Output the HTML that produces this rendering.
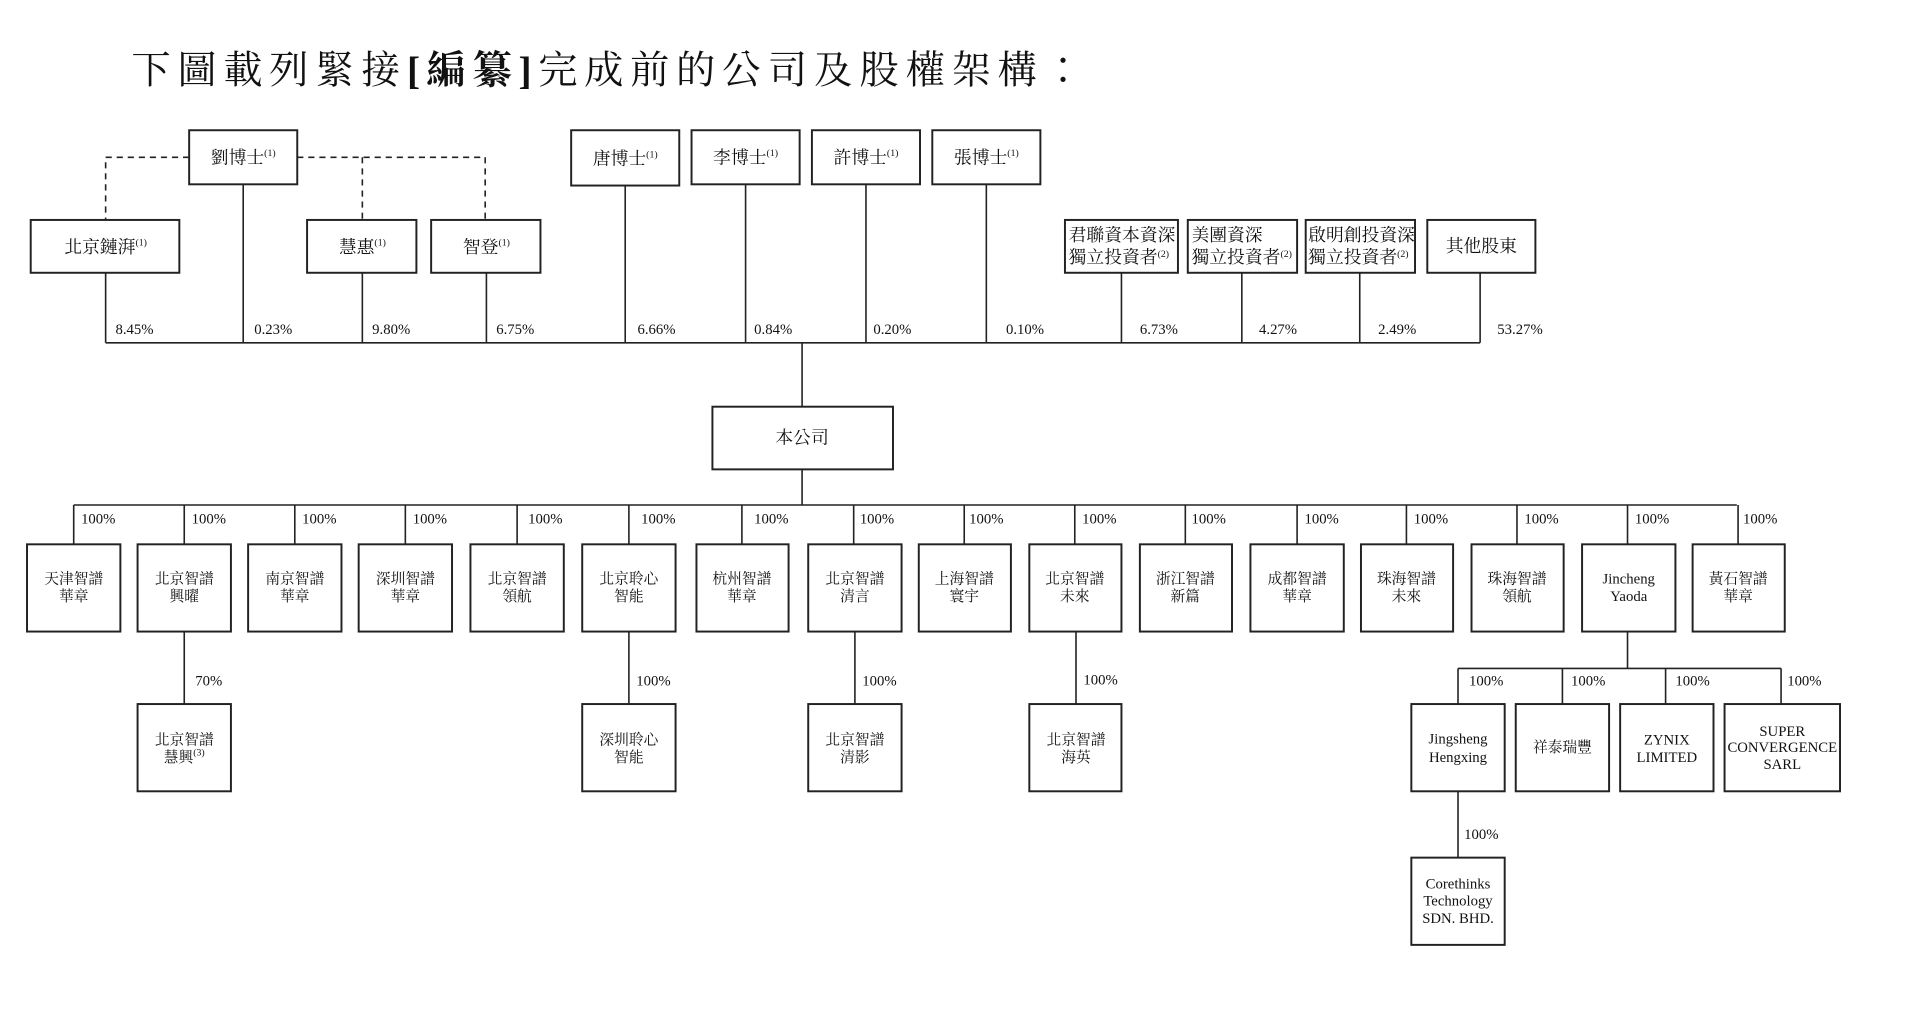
<!DOCTYPE html>
<html><head><meta charset="utf-8"><style>
html,body{margin:0;padding:0;background:#fff;}
svg{display:block;}
text{font-family:"Liberation Serif","Noto Serif CJK TC","Noto Serif CJK SC",serif;fill:#111;}
.b{fill:#fff;stroke:#222;stroke-width:1.6;}
.l{stroke:#222;stroke-width:1.3;fill:none;}
.d{stroke:#222;stroke-width:1.3;fill:none;stroke-dasharray:5,4;}
.p{font-size:12px;}
.t{font-size:14.5px;}
.s{font-size:12px;}
.sup{font-size:8px;}
</style></head><body>
<svg width="1926" height="1010" viewBox="0 0 1568 822" preserveAspectRatio="none" xmlns="http://www.w3.org/2000/svg">
<text x="107" y="68" style="font-size:32px;letter-spacing:5.4px">下圖載列緊接<tspan font-weight="bold">[編纂]</tspan>完成前的公司及股權架構：</text>

<path class="d" d="M154 128 H86 V179"/>
<path class="d" d="M242 128 H395 V179 M295 128 V179"/>

<path class="l" d="M86 222 V279 M198 150 V279 M295 222 V279 M396 222 V279 M509 150 V279 M607 150 V279 M705 150 V279 M803 150 V279 M913 222 V279 M1011 222 V279 M1107 222 V279 M1205 222 V279 M86 279 H1205 M653 279 V331 M653 382 V411 M60 411 H1414"/>

<rect class="b" x="154" y="106" width="88" height="44"/><text class="t" x="198" y="133" text-anchor="middle">劉博士<tspan class="sup" dy="-6">(1)</tspan></text>
<rect class="b" x="465" y="106" width="88" height="45"/><text class="t" x="509" y="134" text-anchor="middle">唐博士<tspan class="sup" dy="-6">(1)</tspan></text>
<rect class="b" x="563" y="106" width="88" height="44"/><text class="t" x="607" y="133" text-anchor="middle">李博士<tspan class="sup" dy="-6">(1)</tspan></text>
<rect class="b" x="661" y="106" width="88" height="44"/><text class="t" x="705" y="133" text-anchor="middle">許博士<tspan class="sup" dy="-6">(1)</tspan></text>
<rect class="b" x="759" y="106" width="88" height="44"/><text class="t" x="803" y="133" text-anchor="middle">張博士<tspan class="sup" dy="-6">(1)</tspan></text>

<rect class="b" x="25" y="179" width="121" height="43"/><text class="t" x="86" y="206" text-anchor="middle">北京鏈湃<tspan class="sup" dy="-6">(1)</tspan></text>
<rect class="b" x="250" y="179" width="89" height="43"/><text class="t" x="295" y="206" text-anchor="middle">慧惠<tspan class="sup" dy="-6">(1)</tspan></text>
<rect class="b" x="351" y="179" width="89" height="43"/><text class="t" x="396" y="206" text-anchor="middle">智登<tspan class="sup" dy="-6">(1)</tspan></text>
<rect class="b" x="867" y="179" width="92" height="43"/><text class="t" x="870" y="196">君聯資本資深</text><text class="t" x="870" y="214">獨立投資者<tspan class="sup" dy="-5">(2)</tspan></text>
<rect class="b" x="967" y="179" width="89" height="43"/><text class="t" x="970" y="196">美團資深</text><text class="t" x="970" y="214">獨立投資者<tspan class="sup" dy="-5">(2)</tspan></text>
<rect class="b" x="1063" y="179" width="89" height="43"/><text class="t" x="1065" y="196">啟明創投資深</text><text class="t" x="1065" y="214">獨立投資者<tspan class="sup" dy="-5">(2)</tspan></text>
<rect class="b" x="1162" y="179" width="88" height="43"/><text class="t" x="1206" y="205" text-anchor="middle">其他股東</text>

<g class="p">
<text x="94" y="272">8.45%</text><text x="207" y="272">0.23%</text><text x="303" y="272">9.80%</text><text x="404" y="272">6.75%</text>
<text x="519" y="272">6.66%</text><text x="614" y="272">0.84%</text><text x="711" y="272">0.20%</text><text x="819" y="272">0.10%</text>
<text x="928" y="272">6.73%</text><text x="1025" y="272">4.27%</text><text x="1122" y="272">2.49%</text><text x="1219" y="272">53.27%</text>
</g>

<rect class="b" x="580" y="331" width="147" height="51"/><text class="t" x="653" y="361" text-anchor="middle">本公司</text>

<g class="s" text-anchor="middle">
<path class="l" d="M60 411V443 M150 411V443 M240 411V443 M330 411V443 M421 411V443 M512 411V443 M604 411V443 M695 411V443 M785 411V443 M875 411V443 M965 411V443 M1056 411V443 M1145 411V443 M1235 411V443 M1325 411V443 M1415 411V443"/>
<g class="p" text-anchor="start">
<text x="66" y="426">100%</text><text x="156" y="426">100%</text><text x="246" y="426">100%</text><text x="336" y="426">100%</text>
<text x="430" y="426">100%</text><text x="522" y="426">100%</text><text x="614" y="426">100%</text><text x="700" y="426">100%</text>
<text x="789" y="426">100%</text><text x="881" y="426">100%</text><text x="970" y="426">100%</text><text x="1062" y="426">100%</text>
<text x="1151" y="426">100%</text><text x="1241" y="426">100%</text><text x="1331" y="426">100%</text><text x="1419" y="426">100%</text>
</g>
<rect class="b" x="22" y="443" width="76" height="71"/><text x="60" y="475">天津智譜</text><text x="60" y="489">華章</text>
<rect class="b" x="112" y="443" width="76" height="71"/><text x="150" y="475">北京智譜</text><text x="150" y="489">興曜</text>
<rect class="b" x="202" y="443" width="76" height="71"/><text x="240" y="475">南京智譜</text><text x="240" y="489">華章</text>
<rect class="b" x="292" y="443" width="76" height="71"/><text x="330" y="475">深圳智譜</text><text x="330" y="489">華章</text>
<rect class="b" x="383" y="443" width="76" height="71"/><text x="421" y="475">北京智譜</text><text x="421" y="489">領航</text>
<rect class="b" x="474" y="443" width="76" height="71"/><text x="512" y="475">北京聆心</text><text x="512" y="489">智能</text>
<rect class="b" x="567" y="443" width="75" height="71"/><text x="604" y="475">杭州智譜</text><text x="604" y="489">華章</text>
<rect class="b" x="658" y="443" width="76" height="71"/><text x="696" y="475">北京智譜</text><text x="696" y="489">清言</text>
<rect class="b" x="748" y="443" width="75" height="71"/><text x="785" y="475">上海智譜</text><text x="785" y="489">寰宇</text>
<rect class="b" x="838" y="443" width="75" height="71"/><text x="875" y="475">北京智譜</text><text x="875" y="489">未來</text>
<rect class="b" x="928" y="443" width="75" height="71"/><text x="965" y="475">浙江智譜</text><text x="965" y="489">新篇</text>
<rect class="b" x="1018" y="443" width="76" height="71"/><text x="1056" y="475">成都智譜</text><text x="1056" y="489">華章</text>
<rect class="b" x="1108" y="443" width="75" height="71"/><text x="1145" y="475">珠海智譜</text><text x="1145" y="489">未來</text>
<rect class="b" x="1198" y="443" width="75" height="71"/><text x="1235" y="475">珠海智譜</text><text x="1235" y="489">領航</text>
<rect class="b" x="1288" y="443" width="76" height="71"/><text x="1326" y="475">Jincheng</text><text x="1326" y="489">Yaoda</text>
<rect class="b" x="1378" y="443" width="75" height="71"/><text x="1415" y="475">黃石智譜</text><text x="1415" y="489">華章</text>

<path class="l" d="M150 514V573 M512 514V573 M696 514V573 M876 514V573 M1325 514V544 M1187 544H1450 M1187 544V573 M1272 544V573 M1356 544V573 M1450 544V573 M1187 644V698"/>
<g class="p" text-anchor="start">
<text x="159" y="558">70%</text><text x="518" y="558">100%</text><text x="702" y="558">100%</text><text x="882" y="557">100%</text>
<text x="1196" y="558">100%</text><text x="1279" y="558">100%</text><text x="1364" y="558">100%</text><text x="1455" y="558">100%</text>
<text x="1192" y="683">100%</text>
</g>
<rect class="b" x="112" y="573" width="76" height="71"/><text x="150" y="606">北京智譜</text><text x="150" y="620">慧興<tspan class="sup" dy="-5">(3)</tspan></text>
<rect class="b" x="474" y="573" width="76" height="71"/><text x="512" y="606">深圳聆心</text><text x="512" y="620">智能</text>
<rect class="b" x="658" y="573" width="76" height="71"/><text x="696" y="606">北京智譜</text><text x="696" y="620">清影</text>
<rect class="b" x="838" y="573" width="75" height="71"/><text x="876" y="606">北京智譜</text><text x="876" y="620">海英</text>
<rect class="b" x="1149" y="573" width="76" height="71"/><text x="1187" y="605">Jingsheng</text><text x="1187" y="620">Hengxing</text>
<rect class="b" x="1234" y="573" width="76" height="71"/><text x="1272" y="612">祥泰瑞豐</text>
<rect class="b" x="1319" y="573" width="76" height="71"/><text x="1357" y="606">ZYNIX</text><text x="1357" y="620">LIMITED</text>
<rect class="b" x="1404" y="573" width="94" height="71"/><text x="1451" y="599">SUPER</text><text x="1451" y="612">CONVERGENCE</text><text x="1451" y="626">SARL</text>
<rect class="b" x="1149" y="698" width="76" height="71"/><text x="1187" y="723">Corethinks</text><text x="1187" y="737">Technology</text><text x="1187" y="751">SDN. BHD.</text>
</g>
</svg>
</body></html>
